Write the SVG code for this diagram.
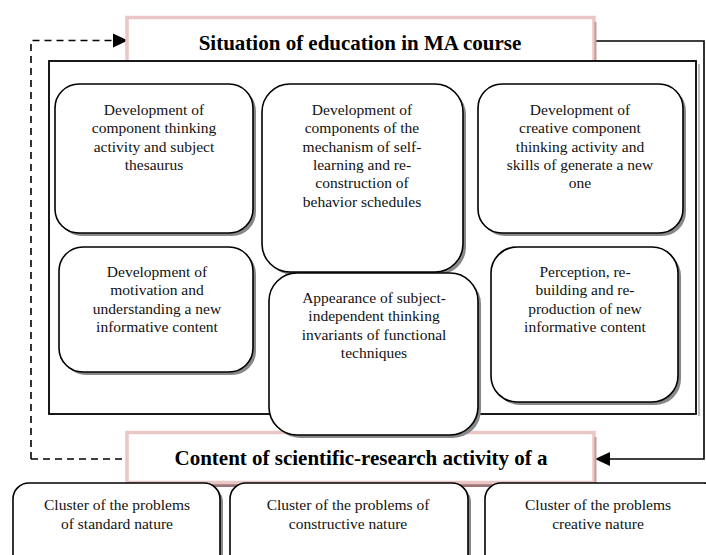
<svg xmlns="http://www.w3.org/2000/svg" width="706" height="555" viewBox="0 0 706 555">
<style>
.box{fill:#fff;stroke:#000;stroke-width:1.6}
.sh{fill:#888}
.t{font-family:'Liberation Serif','Times New Roman',serif;font-size:15.5px;fill:#111;text-anchor:middle}
.h{font-family:'Liberation Serif','Times New Roman',serif;font-size:21px;font-weight:bold;fill:#000;text-anchor:middle}
.tb{fill:#fff;stroke:#ebc6c6;stroke-width:3.5}
.dash{fill:none;stroke:#000;stroke-width:1.6;stroke-dasharray:7 5}
.solid{fill:none;stroke:#000;stroke-width:1.6}
</style>

<g id="connectors">
<path class="dash" d="M31,459 V40.5 H114"/>
<path d="M113,33.5 L128,40.5 L113,47.5 Z" fill="#000"/>
<path class="dash" d="M31,459 H127"/>
<path class="solid" d="M595,41 H704 V459 H608"/>
<path d="M610,452 L595,459 L610,466 Z" fill="#000"/>
</g>

<g id="title-top">
<rect class="tb" x="127" y="17.5" width="467" height="60"/>
<line x1="595.5" y1="22" x2="595.5" y2="62" stroke="#c49a9a" stroke-width="2"/>
<text class="h" x="360" y="50">Situation of education in MA course</text>
</g>

<g id="frame">
<rect x="49" y="61" width="647" height="353" fill="#fff" stroke="#000" stroke-width="1.8"/>
<line x1="699" y1="64" x2="699" y2="416" stroke="#bbb" stroke-width="2"/>
</g>

<g id="n1">
<rect class="sh" x="58" y="87" width="198" height="149" rx="24"/>
<rect class="box" x="55" y="84" width="198" height="149" rx="24"/>
<text class="t" x="154" y="115">Development of</text>
<text class="t" x="154" y="133.3">component thinking</text>
<text class="t" x="154" y="151.6">activity and subject</text>
<text class="t" x="154" y="169.9">thesaurus</text>
</g>

<g id="n2">
<rect class="sh" x="265" y="87" width="201" height="188" rx="28"/>
<rect class="box" x="262" y="84" width="201" height="188" rx="28"/>
<text class="t" x="362" y="115">Development of</text>
<text class="t" x="362" y="133.3">components of the</text>
<text class="t" x="362" y="151.6">mechanism of self-</text>
<text class="t" x="362" y="169.9">learning and re-</text>
<text class="t" x="362" y="188.2">construction of</text>
<text class="t" x="362" y="206.5">behavior schedules</text>
</g>

<g id="n3">
<rect class="sh" x="481" y="87" width="205" height="149" rx="24"/>
<rect class="box" x="478" y="84" width="205" height="149" rx="24"/>
<text class="t" x="580" y="115">Development of</text>
<text class="t" x="580" y="133.3">creative component</text>
<text class="t" x="580" y="151.6">thinking activity and</text>
<text class="t" x="580" y="169.9">skills of generate a new</text>
<text class="t" x="580" y="188.2">one</text>
</g>

<g id="n4">
<rect class="sh" x="62" y="250" width="194" height="125" rx="24"/>
<rect class="box" x="59" y="247" width="194" height="125" rx="24"/>
<text class="t" x="157" y="277">Development of</text>
<text class="t" x="157" y="295.3">motivation and</text>
<text class="t" x="157" y="313.6">understanding a new</text>
<text class="t" x="157" y="331.9">informative content</text>
</g>

<g id="n6">
<rect class="sh" x="494" y="250" width="187" height="155" rx="26"/>
<rect class="box" x="491" y="247" width="187" height="155" rx="26"/>
<text class="t" x="585" y="277">Perception, re-</text>
<text class="t" x="585" y="295.3">building and re-</text>
<text class="t" x="585" y="313.6">production of new</text>
<text class="t" x="585" y="331.9">informative content</text>
</g>

<g id="title-bottom">
<rect x="128" y="480" width="468" height="7" fill="#9c7676"/>
<rect class="tb" x="127" y="432.5" width="467" height="50"/>
<line x1="595.5" y1="437" x2="595.5" y2="482" stroke="#c49a9a" stroke-width="2"/>
<text class="h" x="361" y="465">Content of scientific-research activity of a</text>
</g>

<g id="n5">
<rect class="sh" x="272" y="276" width="209" height="162" rx="28"/>
<rect class="box" x="269" y="273" width="209" height="162" rx="28"/>
<text class="t" x="374" y="303">Appearance of subject-</text>
<text class="t" x="374" y="321.3">independent thinking</text>
<text class="t" x="374" y="339.6">invariants of functional</text>
<text class="t" x="374" y="357.9">techniques</text>
</g>

<g id="c1">
<rect class="sh" x="16" y="486" width="207" height="90" rx="16"/>
<rect class="box" x="13" y="483" width="207" height="90" rx="16"/>
<text class="t" x="117" y="510">Cluster of the problems</text>
<text class="t" x="117" y="529">of standard nature</text>
</g>

<g id="c2">
<rect class="sh" x="233" y="486" width="238" height="90" rx="16"/>
<rect class="box" x="230" y="483" width="238" height="90" rx="16"/>
<text class="t" x="348" y="510">Cluster of the problems of</text>
<text class="t" x="348" y="529">constructive nature</text>
</g>

<g id="c3">
<rect class="box" x="485" y="483" width="235" height="90" rx="16"/>
<text class="t" x="598" y="510">Cluster of the problems</text>
<text class="t" x="598" y="529">creative nature</text>
</g>
</svg>
